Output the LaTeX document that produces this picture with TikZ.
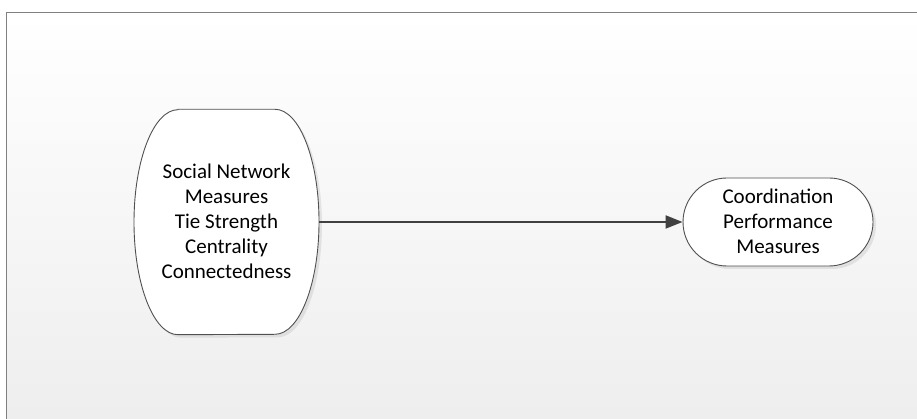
\documentclass[tikz,border=0pt]{standalone}
\usepackage{fontspec}
\setmainfont{Carlito}
\usetikzlibrary{shapes.misc,arrows.meta}
\definecolor{framegray}{HTML}{808080}
\definecolor{linegray}{HTML}{404040}
\definecolor{shapeline}{HTML}{505050}
\definecolor{bgbottom}{HTML}{EEEEEE}
\begin{document}
\begin{tikzpicture}[x=1pt,y=1pt,
  lbl/.style={font=\fontsize{21}{25}\selectfont, text=black, align=center},
  connector/.style={draw=linegray, line width=2pt, -{Triangle[length=17pt,width=13pt]}},
  outline/.style={draw=shapeline, line width=0.9pt, fill=white},
  shadowpath/.style={fill=black, opacity=0.08, draw=none}
]
\useasboundingbox (0,0) rectangle (917,419);
\fill[white] (0,0) rectangle (917,419);
\shade[top color=white, bottom color=bgbottom] (6.5,0) rectangle (917,406.5);
\draw[framegray, line width=1.6pt] (6.5,0) -- (6.5,406.5) -- (917,406.5);

% left node: barrel shape
\node[minimum width=185pt, minimum height=225pt, inner sep=0pt] (snm) at (226.5,197) {};
\fill[shadowpath] ([xshift=-48.5pt+3pt,yshift=-3pt]snm.north) -- ([xshift=48.5pt+3pt,yshift=-3pt]snm.north)
  arc[start angle=90, end angle=-90, x radius=44, y radius=112.5]
  -- ([xshift=-48.5pt+3pt,yshift=-3pt]snm.south)
  arc[start angle=270, end angle=90, x radius=44, y radius=112.5] -- cycle;
\path[outline] ([xshift=-48.5pt]snm.north) -- ([xshift=48.5pt]snm.north)
  arc[start angle=90, end angle=-90, x radius=44, y radius=112.5]
  -- ([xshift=-48.5pt]snm.south)
  arc[start angle=270, end angle=90, x radius=44, y radius=112.5] -- cycle;
\node[lbl] (snmtext) at ([yshift=1pt]snm.center) {Social Network\\Measures\\Tie Strength\\Centrality\\Connectedness};

% right node: stadium
\node[rounded rectangle, minimum width=190pt, minimum height=88pt, inner sep=0pt,
      fill=black, opacity=0.08] at (781,194) {};
\node[rounded rectangle, outline, minimum width=190pt, minimum height=88pt, inner sep=0pt] (cpm) at (778,197) {};
\node[lbl] (cpmtext) at ([yshift=1pt]cpm.center) {Coordination\\Performance\\Measures};

\draw[connector] (snm.east) -- (cpm.west);
\end{tikzpicture}
\end{document}
